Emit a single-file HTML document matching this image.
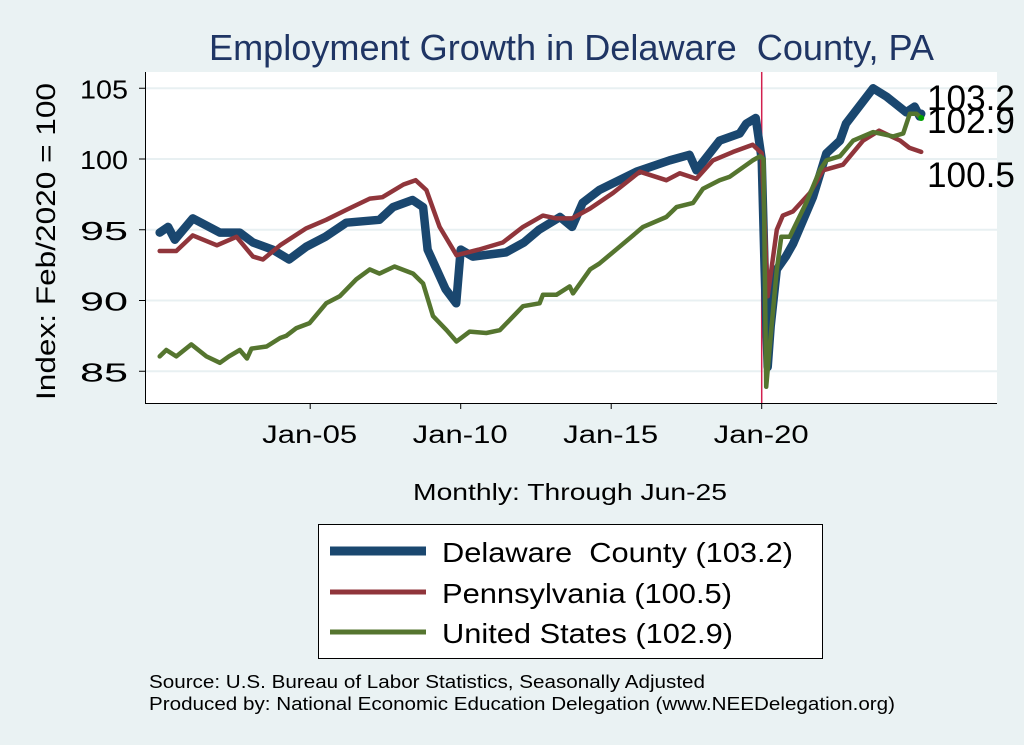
<!DOCTYPE html>
<html><head><meta charset="utf-8"><style>
html,body{margin:0;padding:0;background:#eaf2f3;}
svg{display:block;font-family:"Liberation Sans",Arial,sans-serif;}
</style></head><body>
<svg id="chart" width="1024" height="745" viewBox="0 0 1024 745">
<rect x="0" y="0" width="1024" height="745" fill="#eaf2f3"/>
<rect x="145" y="72" width="852" height="331" fill="#ffffff"/>
<text x="209" y="60" font-size="36" fill="#1f3564" textLength="725" lengthAdjust="spacingAndGlyphs">Employment Growth in Delaware&#160; County, PA</text>
<text transform="translate(55,400) rotate(-90)" font-size="27" fill="#000" textLength="317" lengthAdjust="spacingAndGlyphs">Index: Feb/2020 = 100</text>
<text x="413" y="500" font-size="23" fill="#000" textLength="314" lengthAdjust="spacingAndGlyphs">Monthly: Through Jun-25</text>
<g id="grid"></g><g id="axes"></g><g id="series"></g><g id="labels"></g>
<g>
<rect x="318.5" y="524.5" width="504" height="134" fill="#fff" stroke="#000" stroke-width="1"/>
<line x1="330" y1="551" x2="426" y2="551" stroke="#1a476f" stroke-width="9"/>
<text x="442" y="562" font-size="28" textLength="351" lengthAdjust="spacingAndGlyphs">Delaware&#160; County (103.2)</text>
<line x1="330" y1="592" x2="426" y2="592" stroke="#90353b" stroke-width="5"/>
<text x="442" y="603" font-size="28" textLength="290" lengthAdjust="spacingAndGlyphs">Pennsylvania (100.5)</text>
<line x1="330" y1="632" x2="426" y2="632" stroke="#55752f" stroke-width="5"/>
<text x="442" y="643" font-size="28" textLength="291" lengthAdjust="spacingAndGlyphs">United States (102.9)</text>
</g>
<text x="149" y="688" font-size="18" textLength="556" lengthAdjust="spacingAndGlyphs">Source: U.S. Bureau of Labor Statistics, Seasonally Adjusted</text>
<text x="149" y="710" font-size="18" textLength="746" lengthAdjust="spacingAndGlyphs">Produced by: National Economic Education Delegation (www.NEEDelegation.org)</text>
</svg>
<script>
const yTicks=[85,90,95,100,105];
const xTickYears=[2005,2010,2015,2020];
const xTickLabels=["Jan-05","Jan-10","Jan-15","Jan-20"];
const deDates=[2000.0,2000.28,2000.5,2001.1,2001.55,2002.0,2002.66,2003.1,2003.75,2004.3,2004.87,2005.5,2006.2,2007.3,2007.75,2008.4,2008.75,2008.9,2009.2,2009.5,2009.85,2010.0,2010.4,2011.5,2012.1,2012.6,2013.3,2013.7,2014.05,2014.6,2015.84,2016.94,2017.6,2017.83,2018.6,2019.27,2019.49,2019.8,2020.0,2020.1,2020.2,2020.3,2020.5,2020.8,2021.04,2021.7,2022.15,2022.6,2022.8,2023.7,2024.15,2024.8,2025.08,2025.25,2025.3];
const deValues=[94.8,95.2,94.3,95.8,95.3,94.8,94.8,94.1,93.6,92.9,93.8,94.5,95.5,95.7,96.6,97.1,96.6,93.6,92.2,90.8,89.8,93.6,93.1,93.4,94.1,95.0,95.9,95.2,96.9,97.8,99.1,99.9,100.3,99.2,101.3,101.8,102.5,102.9,100.0,92.0,85.3,88.2,92.2,93.1,94.0,97.3,100.4,101.3,102.5,105.0,104.4,103.3,103.7,103.0,103.2];
const paDates=[2000.0,2000.55,2001.1,2001.9,2002.55,2003.1,2003.43,2004.0,2004.87,2005.53,2006.2,2006.98,2007.4,2008.1,2008.5,2008.86,2009.3,2009.86,2010.6,2011.4,2012.07,2012.73,2013.18,2013.7,2014.3,2015.06,2015.95,2016.83,2017.28,2017.83,2018.38,2019.05,2019.7,2020.0,2020.2,2020.5,2020.7,2021.04,2021.6,2022.04,2022.7,2023.37,2023.9,2024.6,2024.9,2025.3];
const paValues=[93.5,93.5,94.6,93.9,94.5,93.1,92.9,93.9,95.1,95.7,96.4,97.2,97.3,98.2,98.5,97.8,95.2,93.2,93.6,94.1,95.2,96.0,95.8,95.8,96.5,97.6,99.1,98.5,99.0,98.6,99.9,100.5,101.0,100.4,90.3,95.0,96.0,96.3,97.6,99.2,99.6,101.3,102.0,101.3,100.8,100.5];
const usDates=[2000.0,2000.22,2000.55,2001.05,2001.55,2002.0,2002.3,2002.66,2002.9,2003.05,2003.55,2004.0,2004.2,2004.54,2004.98,2005.53,2005.98,2006.53,2006.98,2007.3,2007.8,2008.42,2008.75,2009.08,2009.53,2009.86,2010.3,2010.85,2011.3,2012.07,2012.62,2012.73,2013.18,2013.62,2013.73,2014.3,2014.6,2015.28,2016.06,2016.83,2017.17,2017.72,2018.05,2018.6,2018.94,2019.7,2019.95,2020.06,2020.15,2020.3,2020.5,2020.65,2020.93,2021.48,2021.93,2022.15,2022.6,2023.04,2023.7,2024.37,2024.7,2024.92,2025.14,2025.3];
const usValues=[86.05,86.5,86.05,86.9,86.05,85.6,86.05,86.5,85.9,86.6,86.75,87.35,87.5,88.05,88.4,89.8,90.3,91.5,92.2,91.9,92.4,91.9,91.2,88.9,87.9,87.1,87.8,87.7,87.9,89.6,89.8,90.4,90.4,91.0,90.5,92.2,92.6,93.8,95.2,95.9,96.6,96.9,97.9,98.5,98.75,99.9,100.2,100.0,83.9,87.5,92.2,94.5,94.5,96.9,99.2,99.9,100.2,101.3,101.9,101.6,101.8,103.2,103.2,102.9];
const endLabels=["103.2","102.9","100.5"];
const NS="http://www.w3.org/2000/svg";
function xS(t){return 159.7+(t-2000)*30.1;}
function yS(v){return 159+(100-v)*14.15;}
function mk(tag,attrs,parent){const e=document.createElementNS(NS,tag);for(const k in attrs)e.setAttribute(k,attrs[k]);document.getElementById(parent).appendChild(e);return e;}
yTicks.forEach(v=>{
  const g=mk('line',{x1:145,x2:997,y1:yS(v),y2:yS(v),stroke:'#e8f0f2','stroke-width':2},'grid');
  
  
  const t=mk('line',{x1:139,x2:145,y1:yS(v),y2:yS(v),stroke:'#000','stroke-width':1},'axes');
  
  
  const l=mk('text',{x:80,y:yS(v)+10,'font-size':26,textLength:48,lengthAdjust:'spacingAndGlyphs'},'axes');
  l.textContent=v;
  
  
});
xTickYears.forEach((yr,i)=>{
  const t=mk('line',{x1:xS(yr),x2:xS(yr),y1:403,y2:409,stroke:'#000','stroke-width':1},'axes');
  
  
  const l=mk('text',{x:xS(yr)-48,y:443,'font-size':25,textLength:95,lengthAdjust:'spacingAndGlyphs'},'axes');
  l.textContent=xTickLabels[i];
  
  
});
const ax=mk('path',{d:'M145.5 72 V403.5 H997',fill:'none',stroke:'#000','stroke-width':1},'axes');


const vl=mk('line',{x1:xS(2020),x2:xS(2020),y1:72,y2:403,stroke:'#d2204e','stroke-width':1.5},'series');


function line(d,v,color,w,name){
  const p=d.map((t,i)=>(i?'L':'M')+xS(t).toFixed(1)+' '+yS(v[i]).toFixed(1)).join(' ');
  const e=mk('path',{d:p,fill:'none',stroke:color,'stroke-width':w,'stroke-linejoin':'round','stroke-linecap':'round'},'series');
  
  
}
line(deDates,deValues,'#1a476f',8.5,'series-delaware-county');
line(paDates,paValues,'#90353b',4.5,'series-pennsylvania');
line(usDates,usValues,'#55752f',4.5,'series-united-states');
const dot=mk('circle',{cx:xS(usDates[usDates.length-1]),cy:yS(usValues[usValues.length-1]),r:3,fill:'#00a000'},'series');


const labY=[110,133,187];
endLabels.forEach((s,i)=>{
  const t=mk('text',{x:927,y:labY[i],'font-size':35,textLength:88,lengthAdjust:'spacingAndGlyphs'},'labels');
  t.textContent=s;
  
  
});
</script>
</body></html>
